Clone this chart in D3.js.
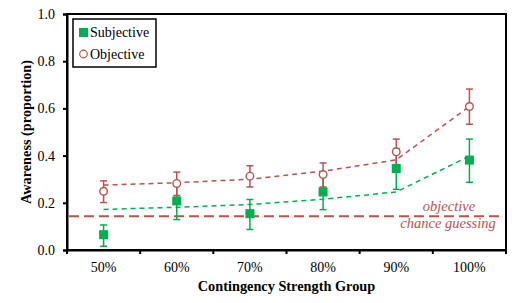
<!DOCTYPE html>
<html lang="en">
<head>
<meta charset="UTF-8">
<title>Awareness</title>
<script src="https://cdn.jsdelivr.net/npm/d3@7/dist/d3.min.js"></script>
</head>
<body style="margin:0; background:#fff">
<div id="chart"></div>
<script>
  const groups = ['50%', '60%', '70%', '80%', '90%', '100%']
  const yTicks = [0, 0.2, 0.4, 0.6, 0.8, 1.0]

  // subjective (green squares)
  const subjMean = [0.065, 0.208, 0.154, 0.246, 0.345, 0.381]
  const subjLow  = [0.016, 0.129, 0.087, 0.171, 0.257, 0.287]
  const subjHigh = [0.106, 0.287, 0.214, 0.321, 0.430, 0.470]
  const subjFit  = [0.172, 0.181, 0.193, 0.215, 0.246, 0.398]

  // objective (red open circles)
  const objMean = [0.249, 0.282, 0.313, 0.320, 0.416, 0.608]
  const objLow  = [0.201, 0.231, 0.267, 0.267, 0.362, 0.533]
  const objHigh = [0.293, 0.330, 0.357, 0.369, 0.470, 0.682]
  const objFit  = [0.275, 0.285, 0.300, 0.334, 0.382, 0.608]

  const chance = 1 / 7

  const width = 520
  const height = 303
  const margin = { top: 14, right: 14, bottom: 53, left: 67 }
  const green = '#00b050'
  const red = '#c0504d'
  const serif = 'Liberation Serif'

  const svg = d3.select('#chart').append('svg')
    .attr('width', width)
    .attr('height', height)
    .attr('font-family', serif)

  const x = d3.scaleBand().domain(groups)
    .range([margin.left, width - margin.right])
  const y = d3.scaleLinear().domain([0, 1])
    .range([height - margin.bottom, margin.top])
  const cx = d => x(d) + x.bandwidth() / 2

  // frame
  svg.append('rect')
    .attr('x', margin.left).attr('y', margin.top)
    .attr('width', width - margin.left - margin.right)
    .attr('height', height - margin.top - margin.bottom)
    .attr('fill', 'none').attr('stroke', '#000').attr('stroke-width', 2)

  // axes
  const gx = svg.append('g')
    .attr('transform', `translate(0, ${height - margin.bottom})`)
    .call(d3.axisBottom(x).tickSize(0).tickPadding(12))
  gx.select('.domain').attr('stroke-width', 2)
  // band boundary ticks
  svg.append('g').selectAll('line')
    .data(d3.range(groups.length + 1))
    .join('line')
    .attr('x1', i => margin.left + i * x.step())
    .attr('x2', i => margin.left + i * x.step())
    .attr('y1', height - margin.bottom)
    .attr('y2', height - margin.bottom + 4)
    .attr('stroke', '#000').attr('stroke-width', 2)

  const gy = svg.append('g')
    .attr('transform', `translate(${margin.left}, 0)`)
    .call(d3.axisLeft(y).tickValues(yTicks).tickFormat(d3.format('.1f')).tickSize(4).tickPadding(8))
  gy.select('.domain').attr('stroke-width', 2)
  gy.selectAll('.tick line').attr('stroke-width', 2)

  // the axis groups carry their own font attrs; drop them so the svg font applies
  svg.selectAll('g').attr('font-family', null).attr('font-size', null)
  svg.selectAll('.tick text').attr('fill', '#000').attr('font-size', 14)

  // axis titles
  svg.append('text')
    .attr('x', (margin.left + width - margin.right) / 2)
    .attr('y', 291)
    .attr('text-anchor', 'middle')
    .attr('font-size', 14.3).attr('font-weight', 'bold')
    .text('Contingency Strength Group')
  svg.append('text')
    .attr('transform', `translate(31, ${(margin.top + height - margin.bottom) / 2}) rotate(-90)`)
    .attr('text-anchor', 'middle')
    .attr('font-size', 14.3).attr('font-weight', 'bold')
    .text('Awareness (proportion)')

  // chance line
  svg.append('line')
    .attr('x1', margin.left + 2).attr('x2', width - margin.right - 2)
    .attr('y1', y(chance)).attr('y2', y(chance))
    .attr('stroke', red).attr('stroke-width', 2).attr('stroke-dasharray', '10,5')
  svg.append('text')
    .attr('x', 449).attr('y', 211)
    .attr('text-anchor', 'middle').attr('font-size', 14.5).attr('font-style', 'italic')
    .attr('fill', red).text('objective')
  svg.append('text')
    .attr('x', 448).attr('y', 228)
    .attr('text-anchor', 'middle').attr('font-size', 14.5).attr('font-style', 'italic')
    .attr('fill', red).text('chance guessing')

  // fit lines
  const line = d3.line().x((d, i) => cx(groups[i])).y(d => y(d))
  svg.append('path').attr('d', line(objFit))
    .attr('fill', 'none').attr('stroke', red).attr('stroke-width', 1.5).attr('stroke-dasharray', '5,4')
  svg.append('path').attr('d', line(subjFit))
    .attr('fill', 'none').attr('stroke', green).attr('stroke-width', 1.5).attr('stroke-dasharray', '5,4')

  function errorBars(low, high, color) {
    const g = svg.append('g').attr('stroke', color).attr('stroke-width', 1.5)
    groups.forEach((grp, i) => {
      const px = cx(grp)
      g.append('line').attr('x1', px).attr('x2', px).attr('y1', y(low[i])).attr('y2', y(high[i]))
      g.append('line').attr('x1', px - 3.5).attr('x2', px + 3.5).attr('y1', y(low[i])).attr('y2', y(low[i]))
      g.append('line').attr('x1', px - 3.5).attr('x2', px + 3.5).attr('y1', y(high[i])).attr('y2', y(high[i]))
    })
  }
  errorBars(subjLow, subjHigh, green)
  errorBars(objLow, objHigh, red)

  // markers
  svg.append('g').selectAll('circle')
    .data(objMean)
    .join('circle')
    .attr('cx', (d, i) => cx(groups[i]))
    .attr('cy', d => y(d))
    .attr('r', 3.8)
    .attr('fill', '#fff').attr('stroke', red).attr('stroke-width', 1.4)
  svg.append('g').selectAll('rect')
    .data(subjMean)
    .join('rect')
    .attr('x', (d, i) => cx(groups[i]) - 4.5)
    .attr('y', d => y(d) - 4.5)
    .attr('width', 9).attr('height', 9)
    .attr('fill', green)

  // legend
  const lg = svg.append('g')
  lg.append('rect').attr('x', 73).attr('y', 19).attr('width', 83).attr('height', 48)
    .attr('fill', '#fff').attr('stroke', '#000').attr('stroke-width', 1.5)
  lg.append('rect').attr('x', 79).attr('y', 28).attr('width', 9).attr('height', 9).attr('fill', green)
  lg.append('text').attr('x', 90).attr('y', 37).attr('font-size', 14).text('Subjective')
  lg.append('circle').attr('cx', 83.5).attr('cy', 54).attr('r', 3.8)
    .attr('fill', '#fff').attr('stroke', red).attr('stroke-width', 1.2)
  lg.append('text').attr('x', 90).attr('y', 59).attr('font-size', 14).text('Objective')

  svg.selectAll('text').style('font-family', serif)
</script>
</body>
</html>
